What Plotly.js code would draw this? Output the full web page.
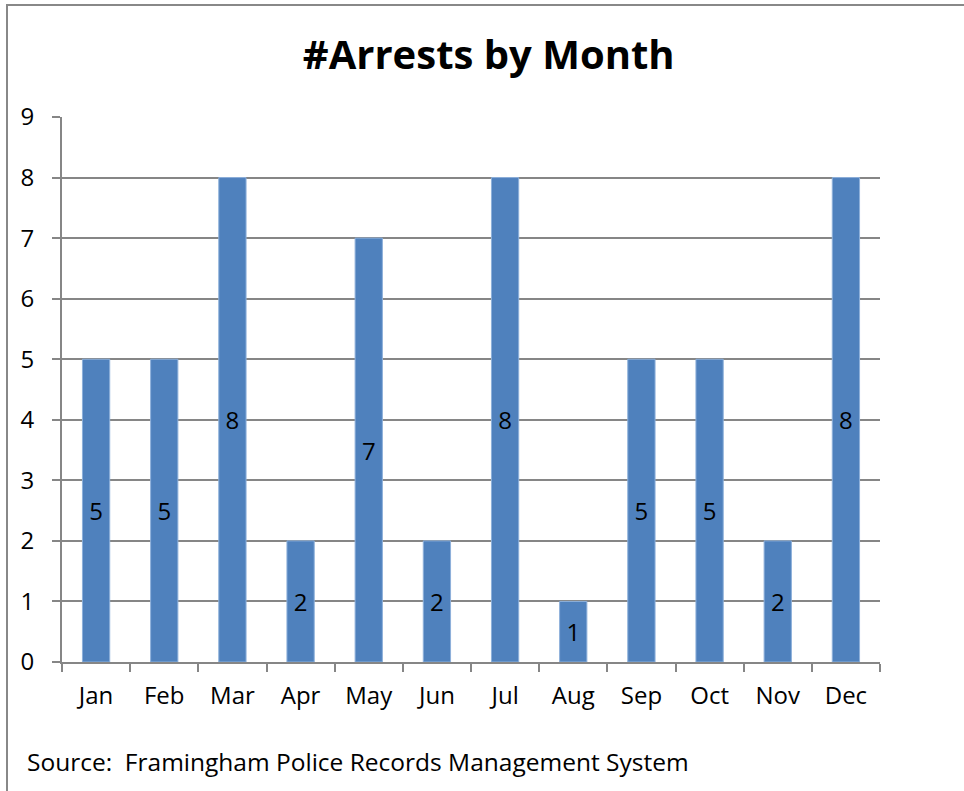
<!DOCTYPE html>
<html>
<head>
<meta charset="utf-8">
<script src="https://cdn.plot.ly/plotly-3.0.1.min.js"></script>
<style>html,body{margin:0;padding:0;background:#fff;} #chart{width:964px;height:791px;}</style>
</head>
<body>
<div id="chart"></div>
<script>
const months = ["Jan","Feb","Mar","Apr","May","Jun","Jul","Aug","Sep","Oct","Nov","Dec"];
const arrests = [5,5,8,2,7,2,8,1,5,5,2,8];
const yTicks = [0,1,2,3,4,5,6,7,8,9];
const titleText = "#Arrests by Month";
const sourceText = "Source:  Framingham Police Records Management System";

const FONT = "'Open Sans', Lato, sans-serif";
const trace = {
  type: "bar",
  x: months,
  y: arrests,
  marker: {color: "#4F81BD", line: {color: "#8DB0DA", width: 1}},
  text: arrests.map(String),
  textposition: "inside",
  insidetextanchor: "middle",
  textangle: 0,
  constraintext: "none",
  textfont: {color: "#000", size: 24, family: FONT},
  hoverinfo: "x+y"
};
const layout = {
  width: 964, height: 791,
  margin: {l: 62, r: 84, t: 117, b: 129},
  paper_bgcolor: "#fff", plot_bgcolor: "#fff",
  bargap: 0.6,
  showlegend: false,
  font: {family: FONT, color: "#000", size: 24},
  title: {text: "<b>" + titleText + "</b>", font: {size: 40, family: FONT, color: "#000"}, x: 0.507, xanchor: "center", y: 0.93, yanchor: "middle"},
  xaxis: {
    type: "category",
    showline: true, linecolor: "#868686", linewidth: 2,
    ticks: "outside", ticklen: 8, tickwidth: 2, tickcolor: "#868686",
    tickson: "boundaries",
    showgrid: false,
    tickfont: {size: 24, family: FONT},
    ticklabelstandoff: 11,
    fixedrange: true
  },
  yaxis: {
    range: [0, 9],
    tickvals: yTicks,
    showline: true, linecolor: "#868686", linewidth: 2,
    ticks: "outside", ticklen: 8, tickwidth: 2, tickcolor: "#868686",
    showgrid: true, gridcolor: "#868686", gridwidth: 2,
    zeroline: false,
    tickfont: {size: 24, family: FONT},
    ticklabelstandoff: 13,
    fixedrange: true
  },
  shapes: [{
    type: "rect", xref: "paper", yref: "paper",
    x0: (7 - 62) / 818, x1: 1.3, y0: -0.6, y1: (662 - 5) / 545,
    line: {color: "#888", width: 2}, fillcolor: "rgba(0,0,0,0)", layer: "below"
  }],
  annotations: [{
    text: sourceText, xref: "paper", yref: "paper",
    x: (25 - 62) / 818, y: (662 - 761) / 545, xanchor: "left", yanchor: "middle",
    showarrow: false, font: {size: 24.5, family: FONT, color: "#000"}
  }]
};
Plotly.newPlot("chart", [trace], layout, {displayModeBar: false, staticPlot: true});
</script>
</body>
</html>
